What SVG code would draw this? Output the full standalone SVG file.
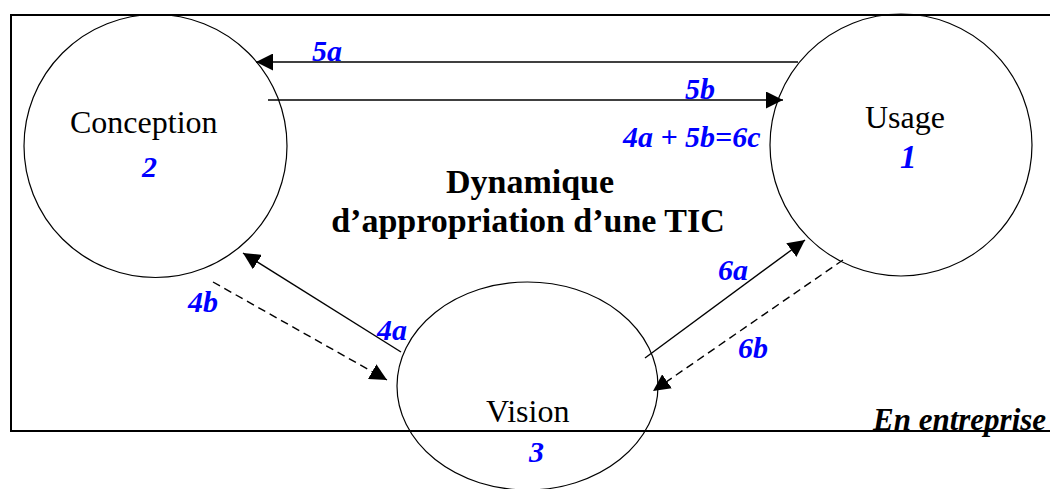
<svg xmlns="http://www.w3.org/2000/svg" width="1050" height="489" viewBox="0 0 1050 489">
<defs>
<style>
text{font-family:"Liberation Serif","Times New Roman",serif}
.node{fill:none;stroke:#000;stroke-width:1.2}
.lbl{font-size:32px;fill:#000}
.num{font-size:30px;font-weight:bold;font-style:italic;fill:#0000ff}
.title{font-size:34px;font-weight:bold;fill:#000;text-anchor:middle}
.edge{stroke:#000;stroke-width:1.4;fill:none;marker-end:url(#ah)}
.dash{stroke-dasharray:8 5}
</style>
<marker id="ah" markerUnits="userSpaceOnUse" markerWidth="17" markerHeight="17" refX="17" refY="8.5" orient="auto" viewBox="0 0 17 17">
<path d="M0,0 L17,8.5 L0,17 z" fill="#000"/>
</marker>
</defs>
<rect x="11" y="15" width="1060" height="416" fill="none" stroke="#000" stroke-width="2"/>
<g id="conception">
<circle class="node" cx="155.5" cy="146" r="131.5"/>
<text class="lbl" x="70" y="133">Conception</text>
<text class="num" x="142" y="177">2</text>
</g>
<g id="usage">
<circle class="node" cx="901" cy="145" r="131"/>
<text class="lbl" x="865" y="128">Usage</text>
<text class="num" x="900" y="168" style="font-size:33px">1</text>
</g>
<g id="vision">
<ellipse class="node" cx="527.5" cy="386" rx="130.5" ry="104"/>
<text class="lbl" x="486" y="422">Vision</text>
<text class="num" x="529" y="462">3</text>
</g>
<g id="title">
<text class="title" x="530" y="193">Dynamique</text>
<text class="title" x="528" y="232">d’appropriation d’une TIC</text>
</g>
<g id="context">
<text x="873" y="430" style="font-size:31px;font-weight:bold;font-style:italic;fill:#000">En entreprise</text>
</g>
<g id="connectors">
<line class="edge" x1="798" y1="62" x2="256" y2="62"/>
<line class="edge" x1="268" y1="100" x2="783" y2="100"/>
<line class="edge" x1="401" y1="352" x2="243" y2="253"/>
<line class="edge dash" x1="213" y1="282" x2="387" y2="380"/>
<line class="edge" x1="645" y1="358" x2="805" y2="240"/>
<line class="edge dash" x1="843" y1="260" x2="653" y2="391"/>
</g>
<g id="edge-labels">
<text class="num" x="312" y="61">5a</text>
<text class="num" x="685" y="99">5b</text>
<text class="num" x="623" y="147">4a + 5b=6c</text>
<text class="num" x="188" y="312">4b</text>
<text class="num" x="377" y="340">4a</text>
<text class="num" x="718" y="280">6a</text>
<text class="num" x="738" y="358">6b</text>
</g>
</svg>
